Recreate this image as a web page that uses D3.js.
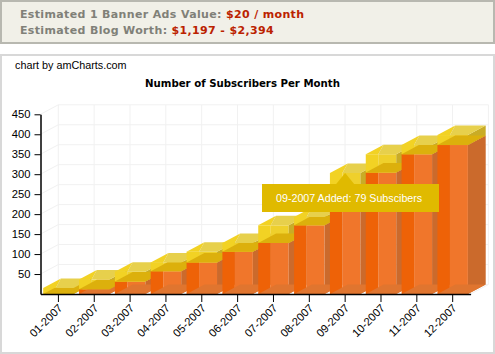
<!DOCTYPE html>
<html>
  <head>
    <title>Number of Subscribers Per Month</title>
    <style>
      html,
      body {
        margin: 0;
        padding: 0;
        background: #fff;
      }

      svg {
        display: block;
      }
    </style>
  </head>
  <body>
    <svg id="svg" width="495" height="354"></svg>

    <script src="https://cdn.jsdelivr.net/npm/d3@7"></script>
    <script>
      const months = ['01-2007', '02-2007', '03-2007', '04-2007', '05-2007', '06-2007',
        '07-2007', '08-2007', '09-2007', '10-2007', '11-2007', '12-2007'];
      const existing = [0, 12, 31, 57, 79, 106, 128, 172, 224, 304, 350, 373];
      const added = [15, 24, 25, 22, 27, 22, 44, 21, 79, 46, 23, 25];
      const yTicks = [50, 100, 150, 200, 250, 300, 350, 400, 450];

      const depthX = 17.8;
      const depthY = 9.5;
      const split = 0.41;

      const orange = { left: '#ee6207', front: '#f0762b', side: '#cb6a2c', bottom: '#e0752f', topLeft: '#ee6207', top: '#f0762b' };
      const yellow = { left: '#f2d224', front: '#efd02c', side: '#c9ac26', bottom: '#dcb00c', topLeft: '#f2d224', top: '#e7d04c' };

      const svg = d3.select('#svg');

      // banner
      svg.append('rect').attr('x', 1).attr('y', 1).attr('width', 493).attr('height', 42)
        .attr('fill', '#f1f0e8').attr('stroke', '#b8b8b0').attr('stroke-width', 2);

      const banner = svg.append('g')
        .attr('font-family', 'DejaVu Sans')
        .attr('font-weight', 'bold')
        .attr('font-size', 11)
        .attr('letter-spacing', 0.35);
      const line1 = banner.append('text').attr('x', 20).attr('y', 18).attr('fill', '#808078');
      line1.append('tspan').text('Estimated 1 Banner Ads Value: ');
      line1.append('tspan').attr('fill', '#bb2200').text('$20 / month');
      const line2 = banner.append('text').attr('x', 20).attr('y', 34).attr('fill', '#808078');
      line2.append('tspan').text('Estimated Blog Worth: ');
      line2.append('tspan').attr('fill', '#bb2200').text('$1,197 - $2,394');

      // chart frame
      svg.append('rect').attr('x', 1).attr('y', 55).attr('width', 493).attr('height', 298)
        .attr('fill', '#fff').attr('stroke', '#d8d8d8').attr('stroke-width', 2);

      svg.append('text').attr('x', 15).attr('y', 69)
        .attr('font-family', 'Liberation Sans').attr('font-size', 10.8)
        .text('chart by amCharts.com');

      svg.append('text').attr('x', 242.5).attr('y', 87).attr('text-anchor', 'middle')
        .attr('font-family', 'DejaVu Sans').attr('font-weight', 'bold').attr('font-size', 10.2)
        .text('Number of Subscribers Per Month');

      const xScale = d3.scaleBand().domain(months).range([40.5, 470.6])
        .paddingInner(0.15).paddingOuter(0.075);
      const yScale = d3.scaleLinear().domain([0, 450]).range([294, 114.3]);

      const step = xScale.step();
      const wallLeft = xScale.range()[0] + depthX;
      const wallRight = xScale.range()[1] + depthX;
      const wallBottom = yScale(0) - depthY;
      const wallTop = yScale(450) - depthY;

      // back wall grid
      const grid = svg.append('g').attr('fill', 'none').attr('stroke', '#f1f1f1');
      d3.range(13).forEach((i) => {
        const gx = wallLeft + i * step;
        grid.append('line').attr('x1', gx).attr('x2', gx).attr('y1', wallTop).attr('y2', wallBottom);
      });
      [0].concat(yTicks).forEach((v) => {
        const gy = yScale(v);
        grid.append('path').attr('d', d3.line()([
          [xScale.range()[0], gy], [wallLeft, gy - depthY], [wallRight, gy - depthY],
        ]));
      });
      grid.append('line').attr('x1', xScale.range()[1]).attr('y1', yScale(0))
        .attr('x2', wallRight).attr('y2', wallBottom);

      // one 3D block of a stacked column
      const poly = d3.line();
      const drawBlock = (g, month, from, to, c) => {
        const x0 = xScale(month);
        const w = xScale.bandwidth();
        const xm = x0 + w * split;
        const x1 = x0 + w;
        const yb = yScale(from);
        const yt = yScale(to);
        const faces = [
          [c.left, [[x0, yb], [xm, yb], [xm, yt], [x0, yt]]],
          [c.front, [[xm, yb], [x1, yb], [x1, yt], [xm, yt]]],
          [c.side, [[x1, yb], [x1 + depthX, yb - depthY], [x1 + depthX, yt - depthY], [x1, yt]]],
          [c.bottom, [[x0, yb], [x0 + depthX, yb - depthY], [x1 + depthX, yb - depthY], [x1, yb]]],
          [c.topLeft, [[x0, yt], [x0 + depthX, yt - depthY], [xm, yt]]],
          [c.top, [[xm, yt], [x0 + depthX, yt - depthY], [x1 + depthX, yt - depthY], [x1, yt]]],
        ];
        g.selectAll(null)
          .data(faces)
          .enter()
          .append('path')
          .attr('d', (d) => poly(d[1]) + 'Z')
          .attr('fill', (d) => d[0]);
      };

      const bars = svg.append('g');
      months.forEach((m, i) => {
        const g = bars.append('g');
        if (existing[i] > 0) drawBlock(g, m, 0, existing[i], orange);
        drawBlock(g, m, existing[i], existing[i] + added[i], yellow);
      });

      // axes
      const leftAxis = d3.axisLeft(yScale).tickValues(yTicks).tickSize(6).tickSizeOuter(0).tickPadding(4);
      const yAxis = svg.append('g').attr('transform', 'translate(40.5, 0)').call(leftAxis);
      const bottomAxis = d3.axisBottom(xScale).tickSize(8).tickSizeOuter(0);
      const xAxis = svg.append('g').attr('transform', 'translate(0, 294)').call(bottomAxis);

      [yAxis, xAxis].forEach((a) => {
        a.attr('font-family', 'Liberation Sans').attr('font-size', 11.2);
        a.selectAll('path, line').attr('stroke', '#000');
      });
      yAxis.select('.domain').attr('stroke-width', 1.5);
      xAxis.select('.domain').attr('stroke-width', 1.5);
      xAxis.selectAll('text')
        .attr('text-anchor', 'end')
        .attr('transform', 'translate(2, 12) rotate(-45)')
        .attr('x', 0).attr('y', 0).attr('dy', '0.35em');

      // balloon for 09-2007
      const balloonX = xScale('09-2007') + xScale.bandwidth() / 2;
      const balloonTop = yScale(existing[8] + added[8]);
      const balloon = svg.append('g');
      balloon.append('path')
        .attr('d', poly([
          [balloonX, balloonTop], [balloonX + 9, balloonTop + 11], [balloonX - 9, balloonTop + 11],
        ]) + 'Z')
        .attr('fill', '#e0ba00');
      balloon.append('rect')
        .attr('x', 262).attr('y', 184).attr('width', 177).attr('height', 28)
        .attr('fill', '#e0ba00');
      balloon.append('text')
        .attr('x', 276).attr('y', 202)
        .attr('font-family', 'Liberation Sans').attr('font-size', 10.7).attr('fill', '#fff')
        .text(`${months[8]} Added: ${added[8]} Subscibers`);
    </script>
  </body>
</html>
